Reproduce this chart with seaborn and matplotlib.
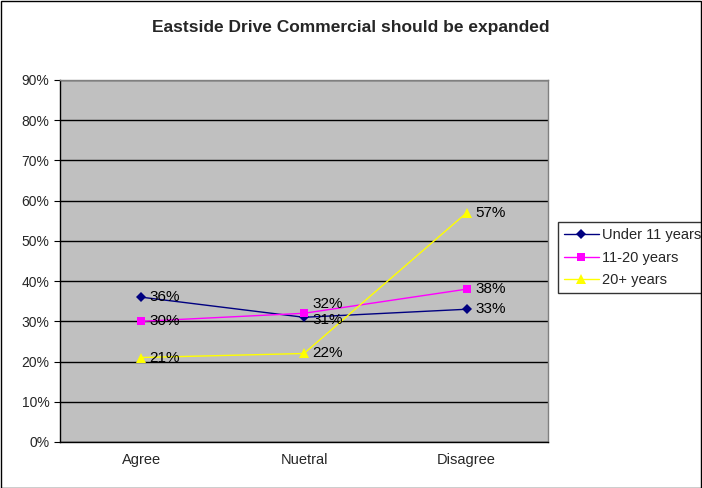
import pandas as pd
import matplotlib
matplotlib.use("Agg")
import matplotlib.pyplot as plt
import seaborn as sns
from matplotlib.patches import Rectangle

# --- data ---
categories = ["Agree", "Nuetral", "Disagree"]
series_names = ["Under 11 years", "11-20 years", "20+ years"]
under_11 = [36, 31, 33]
y11_20 = [30, 32, 38]
y20_plus = [21, 22, 57]
y_ticks = [0, 10, 20, 30, 40, 50, 60, 70, 80, 90]

colors = ["#000080", "#FF00FF", "#FFFF00"]
markers = ["D", "s", "^"]
marker_sizes = [5, 5.5, 6.5]

rows = []
for name, vals in zip(series_names, [under_11, y11_20, y20_plus]):
    for i, (cat, v) in enumerate(zip(categories, vals)):
        rows.append({"pos": i, "cat": cat, "value": v, "series": name})
df = pd.DataFrame(rows)

sns.set_style("white")
plt.rcParams["font.family"] = ["Liberation Sans", "DejaVu Sans"]

fig = plt.figure(figsize=(7.02, 4.88), dpi=100)
# outer border
fig.patches.append(Rectangle((0.001, 0.001), 0.997, 0.997, transform=fig.transFigure,
                             fill=False, edgecolor="black", linewidth=1))
ax = fig.add_axes([0.0855, 0.0943, 0.6951, 0.7418])
ax.set_facecolor("#C0C0C0")

sns.lineplot(data=df, x="pos", y="value", hue="series", style="series",
             hue_order=series_names, style_order=series_names,
             palette=colors, markers=markers, dashes=False, markersize=6,
             linewidth=1, markeredgewidth=0, ax=ax)
for line, ms in zip(ax.lines, marker_sizes):
    line.set_markersize(ms)

# data labels
for name, vals in zip(series_names, [under_11, y11_20, y20_plus]):
    for i, v in enumerate(vals):
        dy = 0
        if name == "11-20 years" and i == 1:
            dy = 7
        elif name == "Under 11 years" and i == 1:
            dy = -2
        ax.annotate(f"{v}%", (i, v), xytext=(6, dy), textcoords="offset points",
                    ha="left", va="center", fontsize=11, color="black")

ax.set_xlim(-0.5, 2.5)
ax.set_ylim(0, 90)
ax.set_yticks(y_ticks)
ax.set_yticklabels([f"{t}%" for t in y_ticks], fontsize=10)
ax.set_xticks(range(len(categories)))
ax.set_xticklabels(categories, fontsize=10.5)
ax.set_xticks([-0.5, 0.5, 1.5, 2.5], minor=True)
ax.tick_params(axis="x", which="major", length=0, pad=8)
ax.tick_params(axis="x", which="minor", length=4, width=0.8, color="black", direction="out")
ax.tick_params(axis="y", length=4, width=0.8, color="black", direction="out", left=True)
ax.yaxis.grid(True, color="black", linewidth=1)
ax.set_axisbelow(True)
ax.set_xlabel("")
ax.set_ylabel("")
for side in ["top", "right"]:
    ax.spines[side].set_color("#808080")
    ax.spines[side].set_linewidth(1)
for side in ["left", "bottom"]:
    ax.spines[side].set_color("black")
    ax.spines[side].set_linewidth(1)

fig.text(0.5, 0.944, "Eastside Drive Commercial should be expanded",
         ha="center", va="center", fontsize=12.5, fontweight="bold")

leg = ax.legend(loc="upper left", bbox_to_anchor=(0.795, 0.545), bbox_transform=fig.transFigure,
                frameon=True, fancybox=False, fontsize=10.5, handlelength=2.4,
                handletextpad=0.2, borderpad=0.4, labelspacing=0.6, borderaxespad=0)
leg.get_frame().set_edgecolor("black")
leg.get_frame().set_linewidth(1)
leg.get_frame().set_facecolor("white")
for h, ms in zip(leg.legend_handles, marker_sizes):
    h.set_markersize(ms)

fig.savefig("out.png", dpi=100)
